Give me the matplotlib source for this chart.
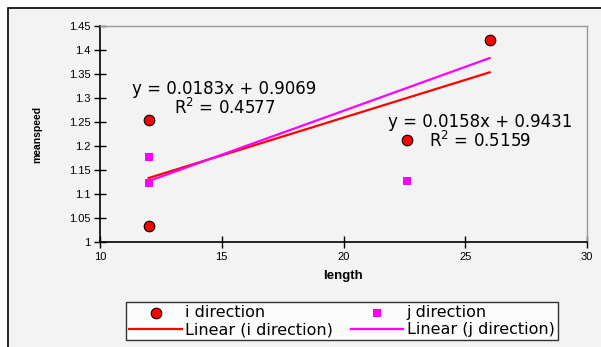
import numpy as np
import matplotlib
matplotlib.use("Agg")
import matplotlib.pyplot as plt
from matplotlib.patches import Rectangle

# data
i_length = [12.0, 12.0, 26.0, 22.6]
i_speed = [1.255, 1.033, 1.420, 1.212]
j_length = [12.0, 12.0, 22.6, 26.0]
j_speed = [1.178, 1.123, 1.127, 1.530]   # last point lies above the plot range

i_label_eq = "y = 0.0158x + 0.9431\nR$^2$ = 0.5159"
j_label_eq = "y = 0.0183x + 0.9069\nR$^2$ = 0.4577"

x_ticks = [10, 15, 20, 25, 30]
y_ticks = [1, 1.05, 1.1, 1.15, 1.2, 1.25, 1.3, 1.35, 1.4, 1.45]
y_tick_labels = ["1", "1.05", "1.1", "1.15", "1.2", "1.25", "1.3", "1.35", "1.4", "1.45"]

plt.rcParams['font.family'] = ['Liberation Sans', 'DejaVu Sans']
plt.rcParams['mathtext.fontset'] = 'dejavusans'

W, H = 601, 347
fig = plt.figure(figsize=(W / 100, H / 100), dpi=100)
fig.patch.set_facecolor("white")

# outer chart area, drawn as a background axes
bg = fig.add_axes([0, 0, 1, 1], zorder=-5)
bg.set_xlim(0, W)
bg.set_ylim(H, 0)
bg.axis("off")
bg.add_patch(Rectangle((8, 8), W + 10, H + 10, facecolor="#f3f3f3",
                       edgecolor="black", linewidth=1.2))

ax = fig.add_axes([100 / W, 1 - 242 / H, 487 / W, 216 / H])
ax.set_facecolor("#f3f3f3")

ax.scatter(i_length, i_speed, s=58, marker="o", color="#ff0000",
           edgecolors="black", linewidths=0.8, zorder=4, label="i direction")
ax.scatter(j_length, j_speed, s=34, marker="s", color="#ff00ff",
           edgecolors="none", zorder=4, label="j direction")

# linear trend lines over the data range
for xs, ys, col, name in [(i_length, i_speed, "#ff0000", "Linear (i direction)"),
                          (j_length, j_speed, "#ff00ff", "Linear (j direction)")]:
    k, b = np.polyfit(xs, ys, 1)
    xx = np.array([min(xs), max(xs)])
    ax.plot(xx, k * xx + b, color=col, linewidth=1.6, zorder=3, label=name)

ax.text(15.1, 1.297, j_label_eq, ha="center", va="center", fontsize=12,
        family="DejaVu Sans", linespacing=1.0)
ax.text(25.6, 1.229, i_label_eq, ha="center", va="center", fontsize=12,
        family="DejaVu Sans", linespacing=1.0)

ax.set_xlim(10, 30)
ax.set_ylim(1, 1.45)
ax.set_xticks(x_ticks)
ax.set_yticks(y_ticks)
ax.set_yticklabels(y_tick_labels)
ax.tick_params(direction="inout", length=8, width=1, labelsize=8, pad=3)

for side in ["left", "bottom"]:
    ax.spines[side].set_color("black")
    ax.spines[side].set_linewidth(1.2)
for side in ["top", "right"]:
    ax.spines[side].set_color("#999999")
    ax.spines[side].set_linewidth(1)

ax.set_xlabel("length", fontsize=9.5, fontweight="bold", labelpad=6)
ax.set_ylabel("meanspeed", fontsize=7.5, fontweight="bold", labelpad=19)

handles, labels = ax.get_legend_handles_labels()
order = [0, 2, 1, 3]
leg = fig.legend([handles[n] for n in order], [labels[n] for n in order],
                 ncol=2, loc="center", bbox_to_anchor=(342 / W, 1 - 321 / H),
                 prop={"family": "DejaVu Sans", "size": 11.5}, frameon=True,
                 fancybox=False, edgecolor="black", facecolor="white",
                 borderpad=0.2, labelspacing=0.15, handlelength=3.3,
                 handletextpad=0.2, columnspacing=1.1)
leg.get_frame().set_linewidth(1)

fig.savefig("out.png", dpi=100)
